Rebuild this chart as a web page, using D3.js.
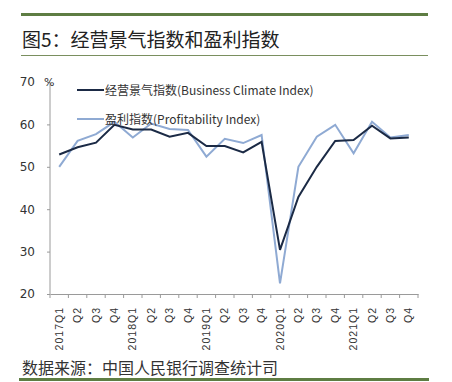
<!DOCTYPE html>
<html><head><meta charset="utf-8">
<script src="https://cdn.jsdelivr.net/npm/d3@7"></script>
<style>body{margin:0;background:#fff;}svg{display:block;}</style>
</head><body>
<svg id="c" width="452" height="382"></svg>
<script>
const categories = ["2017Q1","Q2","Q3","Q4","2018Q1","Q2","Q3","Q4","2019Q1","Q2","Q3","Q4","2020Q1","Q2","Q3","Q4","2021Q1","Q2","Q3","Q4"];
const businessClimate = [52.9,54.6,55.7,59.9,58.8,58.8,57.1,58.0,54.9,54.9,53.4,55.9,30.4,42.9,50.0,56.1,56.3,59.7,56.7,56.9];
const profitability = [50.0,56.1,57.7,60.6,56.9,60.2,58.9,58.7,52.4,56.6,55.6,57.5,22.5,50.0,57.1,59.9,53.2,60.6,56.9,57.5];
const yTicks = [20,30,40,50,60,70];
const seriesNames = ["经营景气指数(Business Climate Index)","盈利指数(Profitability Index)"];
const title = "图5：经营景气指数和盈利指数";
const source = "数据来源：中国人民银行调查统计司";

const svg = d3.select("#c");
const font = "'Noto Sans CJK SC', 'Noto Sans', sans-serif";
const green = "#5e7d43";

svg.append("rect").attr("x",21).attr("y",13).attr("width",407).attr("height",3).attr("fill",green);
svg.append("text").attr("x",22).attr("y",47).text(title)
  .attr("font-family",font).attr("font-size",19).attr("fill","#222");
svg.append("rect").attr("x",21).attr("y",55).attr("width",407).attr("height",1).attr("fill","#7a8f5f");
svg.append("text").attr("x",22).attr("y",374).text(source)
  .attr("font-family",font).attr("font-size",16).attr("fill","#333");
svg.append("rect").attr("x",19).attr("y",378).attr("width",410).attr("height",3).attr("fill",green);

const x = d3.scaleBand().domain(d3.range(categories.length)).range([50,418]);
const y = d3.scaleLinear().domain([20,70]).range([294,82]);

const axisCol = "#9a9a9a";
const ya = svg.append("g").attr("transform","translate(50,0)")
  .call(d3.axisLeft(y).tickValues(yTicks).tickSize(3).tickPadding(12).tickFormat(d3.format("d")));
ya.select(".domain").attr("stroke",axisCol).attr("d","M0,82V294");
ya.selectAll(".tick line").attr("stroke",axisCol);
ya.selectAll(".tick text").attr("font-family","'DejaVu Sans', sans-serif").attr("font-size",12).attr("fill","#333");

const xa = svg.append("g").attr("transform","translate(0,294)")
  .call(d3.axisBottom(x).tickSize(0).tickFormat(i=>categories[i]));
xa.select(".domain").attr("stroke",axisCol);
xa.selectAll(".tick text").attr("font-family","'Liberation Sans', Arial, sans-serif").attr("font-size",10.5)
  .attr("fill","#333").attr("letter-spacing","1px")
  .attr("text-anchor","end").attr("dy","0.35em")
  .attr("transform","translate(0,13) rotate(-90)").attr("x",0).attr("y",0);
// band boundary ticks
svg.append("g").selectAll("line").data(d3.range(categories.length+1)).join("line")
  .attr("x1",i=>50+i*x.step()).attr("x2",i=>50+i*x.step())
  .attr("y1",294).attr("y2",298).attr("stroke",axisCol);

svg.append("text").attr("x",44).attr("y",86).text("%").attr("font-family","'DejaVu Sans', sans-serif")
  .attr("font-size",11).attr("fill","#333");

const line = d3.line().x((d,i)=>x(i)+x.bandwidth()/2).y(d=>y(d));
const colors = ["#1b2a45","#8faad3"];
svg.append("path").datum(profitability).attr("d",line).attr("fill","none").attr("stroke",colors[1]).attr("stroke-width",2);
svg.append("path").datum(businessClimate).attr("d",line).attr("fill","none").attr("stroke",colors[0]).attr("stroke-width",2);

const leg = [[90,0],[119,1]];
leg.forEach(([ly,k])=>{
  svg.append("line").attr("x1",77).attr("x2",104).attr("y1",ly).attr("y2",ly).attr("stroke",colors[k]).attr("stroke-width",2);
  svg.append("text").attr("x",105).attr("y",ly+4.5).text(seriesNames[k])
    .attr("font-family",font).attr("font-size",12).attr("fill","#333");
});
</script>
</body></html>
